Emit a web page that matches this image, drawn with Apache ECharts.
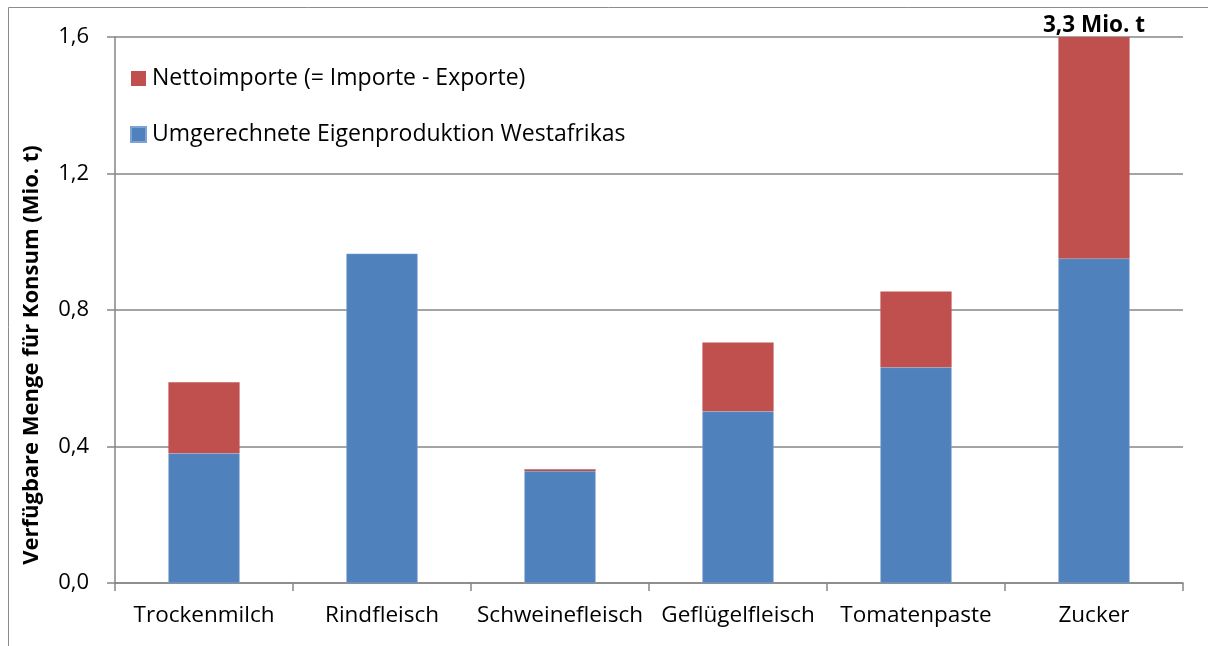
<!DOCTYPE html>
<html>
<head>
<meta charset="utf-8">
<script src="https://cdn.jsdelivr.net/npm/echarts@6/dist/echarts.min.js"></script>
<style>
  html, body { margin: 0; padding: 0; background: #fff; }
  #chart { width: 1208px; height: 646px; }
</style>
</head>
<body>
<div id="chart"></div>
<script>
const categories = ['Trockenmilch', 'Rindfleisch', 'Schweinefleisch', 'Geflügelfleisch', 'Tomatenpaste', 'Zucker']
// Mio. t
const eigenproduktion = [0.38, 0.965, 0.328, 0.503, 0.632, 0.951]
const nettoimporte = [0.208, 0, 0.005, 0.202, 0.222, 2.349]
const yTicks = [0, 0.4, 0.8, 1.2, 1.6]
const zuckerLabel = '3,3 Mio. t'

const chart = echarts.init(document.getElementById('chart'))
const font = '"Open Sans", "Noto Sans", sans-serif'

chart.setOption({
  textStyle: { fontFamily: font },
  animation: false,
  graphic: [
    {
      type: 'rect',
      shape: { x: 8.5, y: 7.5, width: 1300, height: 700 },
      style: { fill: 'none', stroke: '#8c8c8c', lineWidth: 1 },
      silent: true,
    },
  ],
  grid: { left: 115, right: 25, top: 37, bottom: 63 },
  legend: {
    orient: 'vertical',
    left: 130,
    top: 67,
    padding: 0,
    itemWidth: 15,
    itemHeight: 15,
    itemGap: 33,
    icon: 'rect',
    textStyle: { fontSize: 23, color: '#000', fontFamily: font, padding: [0, 0, 0, 1] },
    data: ['Nettoimporte (= Importe - Exporte)', 'Umgerechnete Eigenproduktion Westafrikas'],
  },
  xAxis: {
    type: 'category',
    data: categories,
    axisLine: { lineStyle: { color: '#868686', width: 1.5 } },
    axisTick: { show: true, length: 8, lineStyle: { color: '#868686', width: 1.5 } },
    axisLabel: { color: '#000', fontSize: 22.5, margin: 21, interval: 0 },
  },
  yAxis: {
    type: 'value',
    min: yTicks[0],
    max: yTicks[yTicks.length - 1],
    interval: 0.4,
    name: 'Verfügbare Menge für Konsum (Mio. t)',
    nameLocation: 'middle',
    nameGap: 72,
    nameTextStyle: {
      fontSize: 22,
      fontWeight: 'bold',
      color: '#000',
      padding: [0, 90, 0, 0],
    },
    axisLine: { show: true, lineStyle: { color: '#868686', width: 1.5 } },
    axisTick: { show: true, length: 8, lineStyle: { color: '#868686', width: 1.5 } },
    axisLabel: {
      color: '#000',
      fontSize: 22,
      margin: 26,
      formatter: (v) => v.toFixed(1).replace('.', ','),
    },
    splitLine: { lineStyle: { color: '#868686', width: 1.5 } },
  },
  series: [
    {
      name: 'Umgerechnete Eigenproduktion Westafrikas',
      type: 'bar',
      stack: 'total',
      barWidth: '40%',
      data: eigenproduktion,
      itemStyle: { color: '#4F81BD', borderColor: '#7ea3d3', borderWidth: 0.6 },
    },
    {
      name: 'Nettoimporte (= Importe - Exporte)',
      type: 'bar',
      stack: 'total',
      barWidth: '40%',
      clip: true,
      data: nettoimporte,
      itemStyle: { color: '#C0504D' },
      markPoint: {
        symbol: 'rect',
        symbolSize: 0,
        data: [{ coord: ['Zucker', 1.6] }],
        label: {
          show: true,
          position: 'top',
          distance: 0,
          formatter: zuckerLabel,
          fontSize: 22.5,
          fontWeight: 'bold',
          color: '#000',
          fontFamily: font,
        },
      },
    },
  ],
})
</script>
</body>
</html>
